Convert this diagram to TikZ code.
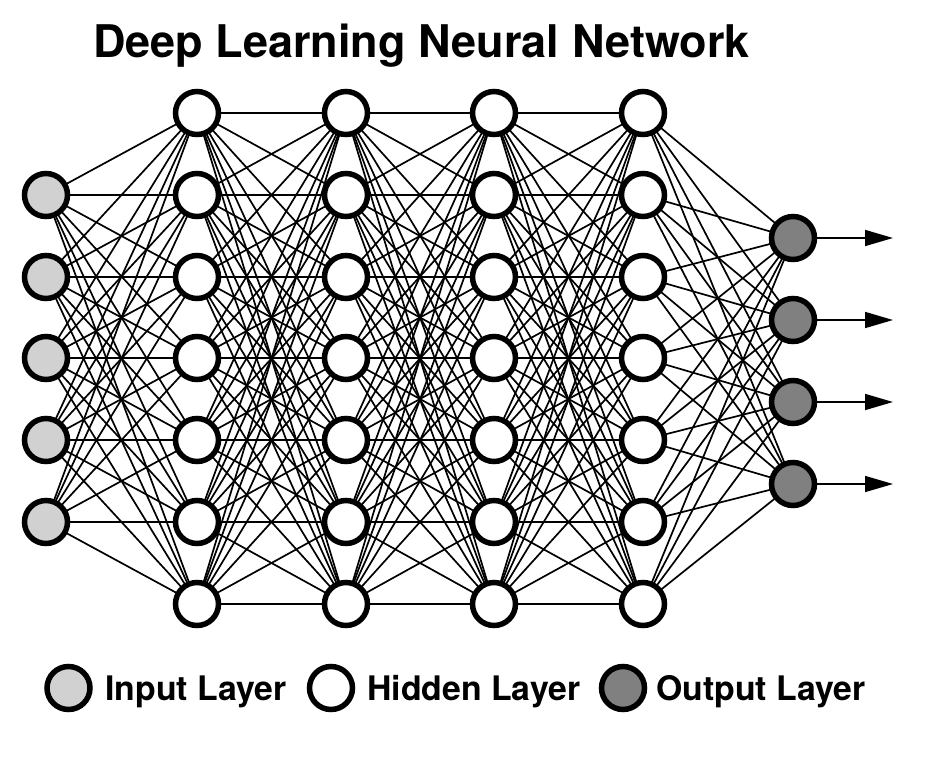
\documentclass[tikz,border=0pt]{standalone}
\usepackage{fontspec}
\setmainfont{TeX Gyre Heros}
\usetikzlibrary{arrows.meta,backgrounds}
\definecolor{inpfill}{gray}{0.82}
\definecolor{outfill}{gray}{0.50}
\tikzset{
  neuron/.style={circle, draw=black, line width=5.5pt, minimum size=43pt, inner sep=0pt},
  inneuron/.style={neuron, fill=inpfill},
  hidneuron/.style={neuron, fill=white},
  outneuron/.style={neuron, fill=outfill},
  conn/.style={line width=1.7pt, black},
  outarrow/.style={line width=1.6pt, -{Triangle[length=28pt,width=16pt]}},
  lbl/.style={font=\bfseries\fontsize{33.8}{37}\selectfont, anchor=base west, inner sep=0pt},
  titlelbl/.style={font=\bfseries\fontsize{45}{50}\selectfont, anchor=base, inner sep=0pt}
}
\begin{document}
\begin{tikzpicture}[x=1pt,y=-1pt]
\useasboundingbox (0,0) rectangle (934,768);
% nodes
\foreach \k/\yy in {1/195,2/277,3/358,4/440,5/522}
  \node[inneuron] (i\k) at (46,\yy) {};
\foreach \l/\xx in {1/197,2/346,3/494,4/643}
  \foreach \k/\yy in {1/113,2/195,3/277,4/358,5/440,6/522,7/604}
    \node[hidneuron] (h\l-\k) at (\xx,\yy) {};
\foreach \k/\yy in {1/238,2/320,3/402,4/484}
  \node[outneuron] (o\k) at (793,\yy) {};
% connections behind the nodes
\begin{scope}[on background layer]
\foreach \a in {1,...,5}
  \foreach \b in {1,...,7}
    \draw[conn] (i\a.center) -- (h1-\b.center);
\foreach \l/\m in {1/2,2/3,3/4}
  \foreach \a in {1,...,7}
    \foreach \b in {1,...,7}
      \draw[conn] (h\l-\a.center) -- (h\m-\b.center);
\foreach \a in {1,...,7}
  \foreach \b in {1,...,4}
    \draw[conn] (h4-\a.center) -- (o\b.center);
\end{scope}
% output arrows
\foreach \k/\yy in {1/238,2/320,3/402,4/484}{
  \coordinate (t\k) at (893,\yy);
  \draw[outarrow] (o\k) -- (t\k);
}
% title
\node[titlelbl] (title) at (421.5,58) {Deep Learning Neural Network};
% legend
\node[inneuron] (legin) at (68.5,688) {};
\node[lbl] (legintext) at (105,700) {Input Layer};
\node[hidneuron] (leghid) at (331,688) {};
\node[lbl] (leghidtext) at (367,700) {Hidden Layer};
\node[outneuron] (legout) at (623,688) {};
\node[lbl] (legouttext) at (656,700) {Output Layer};
\end{tikzpicture}
\end{document}
